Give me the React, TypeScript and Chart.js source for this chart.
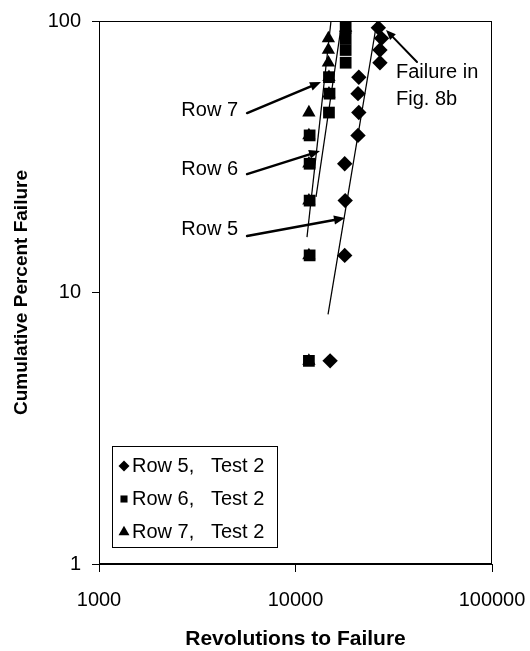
import React, { useEffect, useRef } from 'react';
import { Chart, registerables } from 'chart.js';
import { drawPoint } from 'chart.js/helpers';

Chart.register(...registerables);

// ---- data ----
const rankPercent = [5.6, 13.7, 21.8, 29.8, 37.9, 46.0, 54.0, 62.1, 70.2, 78.2, 86.3, 94.4];
const row5Revolutions = [15000, 17800, 17900, 17800, 20800, 21000, 20800, 21000, 26900, 26900, 27400, 26400];
const row6Revolutions = [11700, 11800, 11800, 11800, 11800, 14800, 14900, 14800, 18000, 18000, 18000, 18000];
const row7Revolutions = [11700, 11700, 11700, 11700, 11700, 11700, 14800, 14800, 14700, 14700, 14700, 18000];

const row5FitX = [14640, 26000];
const row5FitY = [8.3, 100];
const row6FitX = [12720, 17240];
const row6FitY = [22.5, 100];
const row7FitX = [11440, 15160];
const row7FitY = [16.0, 100];

const xTickValues = [1000, 10000, 100000];
const yTickValues = [1, 10, 100];

const seriesLabels = ['Row 5,   Test 2', 'Row 6,   Test 2', 'Row 7,   Test 2'];
const seriesStyles = ['rectRot', 'rect', 'triangle'];

// callouts (data coordinates)
const calloutLabels = ['Row 7', 'Row 6', 'Row 5'];
const calloutTextX = [5100, 5100, 5100];
const calloutTextY = [46.8, 28.3, 17.0];
const calloutTailX = [5670, 5670, 5670];
const calloutTailY = [45.8, 27.3, 16.15];
const calloutTipX = [13485, 13326, 17860];
const calloutTipY = [59.6, 33.2, 18.8];

const failureLines = ['Failure in', 'Fig. 8b'];
const failureTextX = 32470;
const failureTextY = [64.6, 51.2];
const failureTailX = 41530;
const failureTailY = 70.6;
const failureTipX = 28880;
const failureTipY = 92.7;

const FONT = '"Liberation Sans", Arial, Helvetica, sans-serif';

function toPoints(xs: number[], ys: number[]) {
  return xs.map((x, i) => ({ x, y: ys[i] }));
}

function drawArrow(ctx: CanvasRenderingContext2D, x0: number, y0: number, x1: number, y1: number, width: number, headLen: number, headHalf: number) {
  const ang = Math.atan2(y1 - y0, x1 - x0);
  const bx = x1 - Math.cos(ang) * headLen;
  const by = y1 - Math.sin(ang) * headLen;
  ctx.beginPath();
  ctx.lineWidth = width;
  ctx.lineCap = 'round';
  ctx.moveTo(x0, y0);
  ctx.lineTo(bx, by);
  ctx.stroke();
  ctx.beginPath();
  ctx.moveTo(x1, y1);
  ctx.lineTo(bx + Math.sin(ang) * headHalf, by - Math.cos(ang) * headHalf);
  ctx.lineTo(bx - Math.sin(ang) * headHalf, by + Math.cos(ang) * headHalf);
  ctx.closePath();
  ctx.fill();
}

const overlayPlugin = {
  id: 'overlay',
  afterDraw(chart: any) {
    const { ctx, chartArea: a, scales } = chart;
    const xs = scales.x;
    const ys = scales.y;
    ctx.save();
    ctx.strokeStyle = '#000';
    ctx.fillStyle = '#000';
    // plot frame
    ctx.lineWidth = 1;
    ctx.strokeRect(Math.round(a.left) + 0.5, Math.round(a.top) + 0.5, Math.round(a.right - a.left) - 1, Math.round(a.bottom - a.top) - 1);

    // callouts
    ctx.font = `20px ${FONT}`;
    ctx.textBaseline = 'middle';
    ctx.textAlign = 'right';
    calloutLabels.forEach((t, i) => {
      ctx.fillText(t, xs.getPixelForValue(calloutTextX[i]), ys.getPixelForValue(calloutTextY[i]));
      drawArrow(ctx,
        xs.getPixelForValue(calloutTailX[i]), ys.getPixelForValue(calloutTailY[i]),
        xs.getPixelForValue(calloutTipX[i]), ys.getPixelForValue(calloutTipY[i]), 2.5, 11, 4.5);
    });
    ctx.textAlign = 'left';
    failureLines.forEach((t, i) => {
      ctx.fillText(t, xs.getPixelForValue(failureTextX), ys.getPixelForValue(failureTextY[i]));
    });
    drawArrow(ctx,
      xs.getPixelForValue(failureTailX), ys.getPixelForValue(failureTailY),
      xs.getPixelForValue(failureTipX), ys.getPixelForValue(failureTipY), 2, 10, 4);

    // legend
    const lx = a.left + 13;
    const ly = a.bottom - 118;
    const lw = 165;
    const lh = 101;
    ctx.fillStyle = '#fff';
    ctx.fillRect(lx, ly, lw, lh);
    ctx.lineWidth = 1;
    ctx.strokeRect(Math.round(lx) + 0.5, Math.round(ly) + 0.5, lw, lh);
    ctx.fillStyle = '#000';
    const legendRadius = [5.5, 5, 6.3];
    seriesLabels.forEach((label, i) => {
      const cy = ly + 20 + i * 33;
      drawPoint(ctx, { pointStyle: seriesStyles[i] as any, radius: legendRadius[i], rotation: 0, borderWidth: 0 } as any, lx + 12, cy);
      ctx.fillStyle = '#000';
      ctx.textAlign = 'left';
      ctx.fillText(label, lx + 20, cy);
    });
    ctx.restore();
  },
};

export default function App() {
  const ref = useRef<HTMLCanvasElement>(null);
  useEffect(() => {
    if (!ref.current) return;
    const markerDataset = (label: string, xsArr: number[], style: string, radius: number) => ({
      label,
      data: toPoints(xsArr, rankPercent),
      showLine: false,
      pointStyle: style,
      pointRadius: radius,
      pointBackgroundColor: '#000',
      pointBorderColor: '#000',
      pointBorderWidth: 0,
      backgroundColor: '#000',
      borderColor: '#000',
    });
    const fitDataset = (label: string, fx: number[], fy: number[]) => ({
      label,
      data: toPoints(fx, fy),
      showLine: true,
      borderColor: '#000',
      borderWidth: 1.25,
      pointRadius: 0,
      fill: false,
    });
    const chart = new Chart(ref.current, {
      type: 'scatter',
      data: {
        datasets: [
          fitDataset('Row 5 fit', row5FitX, row5FitY),
          fitDataset('Row 6 fit', row6FitX, row6FitY),
          fitDataset('Row 7 fit', row7FitX, row7FitY),
          markerDataset(seriesLabels[0], row5Revolutions, seriesStyles[0], 7.7),
          markerDataset(seriesLabels[1], row6Revolutions, seriesStyles[1], 8.3),
          markerDataset(seriesLabels[2], row7Revolutions, seriesStyles[2], 7.7),
        ] as any,
      },
      options: {
        responsive: false,
        animation: false,
        events: [],
        layout: { padding: { top: 21, right: 38, left: 0, bottom: 0 } },
        plugins: { legend: { display: false }, tooltip: { enabled: false }, title: { display: false } },
        scales: {
          x: {
            type: 'logarithmic',
            position: 'bottom',
            min: 1000,
            max: 100000,
            afterBuildTicks: (s: any) => { s.ticks = xTickValues.map((v) => ({ value: v })); },
            afterFit: (s: any) => { s.height = 87; s.paddingLeft = 0; s.paddingRight = 0; },
            ticks: {
              callback: (v: any) => String(v),
              color: '#000',
              font: { size: 20, family: FONT },
              padding: 16,
              maxRotation: 0,
              autoSkip: false,
            },
            grid: { drawOnChartArea: false, drawTicks: true, tickLength: 8, color: '#000', lineWidth: 1 },
            border: { display: true, color: '#000', width: 1 },
            title: {
              display: true,
              text: 'Revolutions to Failure',
              color: '#000',
              font: { size: 21, weight: 'bold', family: FONT, lineHeight: 1 },
              padding: { top: 0, bottom: 1 },
            },
          },
          y: {
            type: 'logarithmic',
            min: 1,
            max: 100,
            afterBuildTicks: (s: any) => { s.ticks = yTickValues.map((v) => ({ value: v })); },
            afterFit: (s: any) => { s.width = 99; s.paddingTop = 0; s.paddingBottom = 0; },
            ticks: {
              callback: (v: any) => String(v),
              color: '#000',
              font: { size: 20, family: FONT },
              padding: 11,
              autoSkip: false,
            },
            grid: { drawOnChartArea: false, drawTicks: true, tickLength: 7, color: '#000', lineWidth: 1 },
            border: { display: true, color: '#000', width: 1 },
            title: {
              display: true,
              text: 'Cumulative Percent Failure',
              color: '#000',
              font: { size: 19, weight: 'bold', family: FONT, lineHeight: 1 },
              padding: { top: 12.5, bottom: 0 },
            },
          },
        },
      } as any,
      plugins: [overlayPlugin],
    });
    return () => chart.destroy();
  }, []);
  return (
    <div style={{ position: 'fixed', left: 0, top: 0, width: 530, height: 651, background: '#fff' }}>
      <canvas ref={ref} width={530} height={651} style={{ display: 'block', width: 530, height: 651 }} />
    </div>
  );
}
